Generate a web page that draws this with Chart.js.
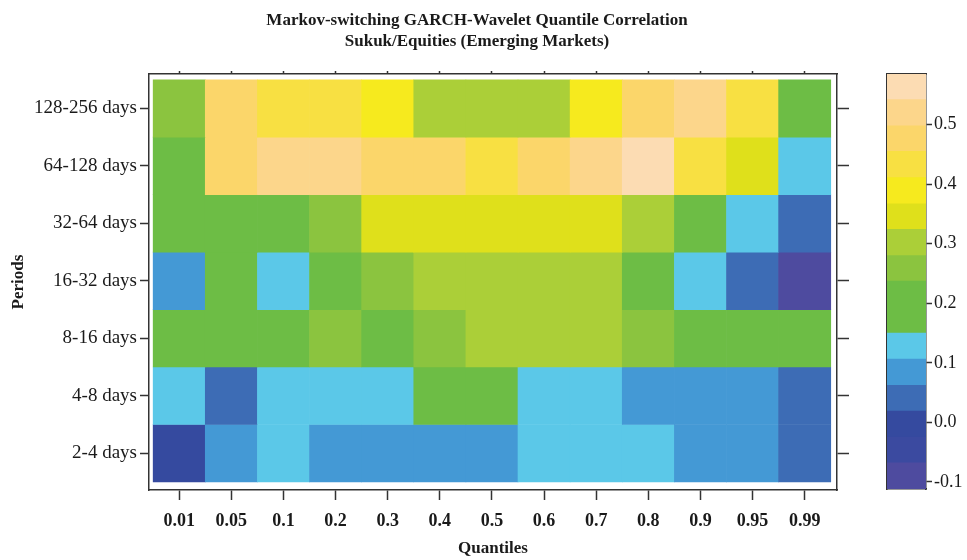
<!DOCTYPE html>
<html>
<head>
<meta charset="utf-8">
<script src="https://cdn.jsdelivr.net/npm/chart.js@4.4.0/dist/chart.umd.min.js"></script>
<style>
  html, body { margin: 0; padding: 0; background: #fff; }
  #wrap { position: relative; width: 967px; height: 560px; }
  #heat { position: absolute; left: 0; top: 0; }
  #cbar { position: absolute; left: 877px; top: 0; }
</style>
</head>
<body>
<div id="wrap">
  <canvas id="heat" width="967" height="560"></canvas>
  <canvas id="cbar" width="90" height="560"></canvas>
</div>
<script>
Chart.defaults.font.family = 'Liberation Serif';
Chart.defaults.color = '#1a1a1a';

const quantiles = ['0.01', '0.05', '0.1', '0.2', '0.3', '0.4', '0.5', '0.6', '0.7', '0.8', '0.9', '0.95', '0.99'];
const periods = ['2-4 days', '4-8 days', '8-16 days', '16-32 days', '32-64 days', '64-128 days', '128-256 days'];

// correlation for each quantile, one array per period
const corr_2_4     = [-0.02, 0.08, 0.13, 0.08, 0.08, 0.09, 0.08, 0.13, 0.13, 0.12, 0.08, 0.08, 0.04];
const corr_4_8     = [0.13, 0.04, 0.13, 0.12, 0.13, 0.20, 0.21, 0.13, 0.12, 0.08, 0.08, 0.09, 0.04];
const corr_8_16    = [0.20, 0.21, 0.20, 0.26, 0.21, 0.26, 0.30, 0.31, 0.30, 0.26, 0.20, 0.21, 0.20];
const corr_16_32   = [0.08, 0.20, 0.13, 0.21, 0.26, 0.30, 0.31, 0.30, 0.30, 0.20, 0.13, 0.04, -0.09];
const corr_32_64   = [0.20, 0.21, 0.20, 0.26, 0.35, 0.35, 0.36, 0.35, 0.35, 0.30, 0.21, 0.13, 0.04];
const corr_64_128  = [0.21, 0.48, 0.52, 0.52, 0.48, 0.48, 0.43, 0.48, 0.52, 0.56, 0.43, 0.35, 0.13];
const corr_128_256 = [0.26, 0.48, 0.43, 0.43, 0.39, 0.30, 0.31, 0.30, 0.39, 0.48, 0.52, 0.43, 0.21];
const corrRows = [corr_2_4, corr_4_8, corr_8_16, corr_16_32, corr_32_64, corr_64_128, corr_128_256];

// colour bar: band edges and colours (bottom to top)
const bandEdges = [-0.112, -0.068, -0.025, 0.019, 0.062, 0.106, 0.15, 0.193, 0.237, 0.28, 0.324, 0.367, 0.411, 0.455, 0.498, 0.542, 0.585];
const bandColors = ['#4e4b9f', '#3b4aa0', '#354a9f', '#3d6cb5', '#4499d5', '#5bc8e8', '#6dbd45', '#6dbd45',
                    '#8bc43f', '#abcf38', '#dfe01b', '#f6ea1e', '#f8e042', '#fbd66a', '#fcd68b', '#fcdcb3'];
const cbTicks = [-0.1, 0.0, 0.1, 0.2, 0.3, 0.4, 0.5];

function colorFor(v) {
  for (let i = 0; i < bandColors.length; i++) {
    if (v < bandEdges[i + 1]) return bandColors[i];
  }
  return bandColors[bandColors.length - 1];
}

const lineCol = '#333';

// one floating bar per cell
const cells = [];
corrRows.forEach((row, r) => row.forEach((v, c) => cells.push({ x: c, y: [r, r + 1], v: v })));

const rowTicks = s => { s.ticks = periods.map((p, i) => ({ value: i + 0.5 })); };
const colTicks = s => { s.ticks = quantiles.map((q, i) => ({ value: i })); };

const heatChart = new Chart(document.getElementById('heat'), {
  type: 'bar',
  data: {
    datasets: [{
      data: cells,
      backgroundColor: ctx => (ctx.raw ? colorFor(ctx.raw.v) : '#fff'),
      borderWidth: 0,
      barPercentage: 1,
      categoryPercentage: 1,
      grouped: false,
    }],
  },
  options: {
    responsive: false,
    animation: false,
    layout: { padding: { left: 0, right: 13, top: 0, bottom: 0 } },
    plugins: {
      legend: { display: false },
      tooltip: { enabled: false },
      title: {
        display: true,
        text: ['Markov-switching GARCH-Wavelet Quantile Correlation', 'Sukuk/Equities (Emerging Markets)'],
        color: '#1a1a1a',
        font: { size: 17, weight: 'bold', lineHeight: 1.25 },
        padding: { top: 10, bottom: 0 },
      },
    },
    scales: {
      x: {
        type: 'linear',
        offset: false,
        min: -0.58,
        max: 12.62,
        afterBuildTicks: colTicks,
        ticks: {
          callback: v => quantiles[Math.round(v)],
          font: { size: 18, weight: 'bold' },
          padding: 11,
          maxRotation: 0,
          autoSkip: false,
        },
        grid: { offset: false, drawOnChartArea: false, tickLength: 10, tickColor: lineCol, tickWidth: 1.5 },
        border: { color: lineCol, width: 1.5 },
        title: { display: true, text: 'Quantiles', font: { size: 17, weight: 'bold' }, padding: { top: 0, bottom: 1 } },
        afterFit: s => { s.height = 70; },
      },
      x2: {
        type: 'linear',
        position: 'top',
        offset: false,
        min: -0.58,
        max: 12.62,
        afterBuildTicks: colTicks,
        ticks: { display: false },
        grid: { offset: false, drawOnChartArea: false, tickLength: 3, tickColor: lineCol, tickWidth: 1.5 },
        border: { color: lineCol, width: 1.5 },
        afterFit: s => { s.height = 21.5; },
      },
      y: {
        type: 'linear',
        min: -0.14,
        max: 7.1,
        afterBuildTicks: rowTicks,
        ticks: {
          callback: v => periods[Math.floor(v)],
          font: { size: 19 },
          padding: 3,
          autoSkip: false,
        },
        grid: { drawOnChartArea: false, tickLength: 9, tickColor: lineCol, tickWidth: 1.5 },
        border: { color: lineCol, width: 1.5 },
        title: { display: true, text: 'Periods', font: { size: 17, weight: 'bold' }, padding: { top: 8, bottom: 0 } },
        afterFit: s => { s.width = 149; },
      },
      y2: {
        type: 'linear',
        position: 'right',
        min: -0.14,
        max: 7.1,
        afterBuildTicks: rowTicks,
        ticks: { display: false },
        grid: { drawOnChartArea: false, tickLength: 12, tickColor: lineCol, tickWidth: 1.5 },
        border: { color: lineCol, width: 1.5 },
        afterFit: s => { s.width = 117; },
      },
    },
  },
});

// colour bar as stacked floating bands
const cbChart = new Chart(document.getElementById('cbar'), {
  type: 'bar',
  data: {
    labels: [''],
    datasets: bandColors.map((col, i) => ({
      data: [[bandEdges[i], bandEdges[i + 1]]],
      backgroundColor: col,
      borderWidth: 0,
      barPercentage: 1,
      categoryPercentage: 1,
      grouped: false,
    })),
  },
  options: {
    responsive: false,
    animation: false,
    layout: { padding: { left: 10, right: 0, top: 74, bottom: 71 } },
    plugins: { legend: { display: false }, tooltip: { enabled: false } },
    scales: {
      x: {
        ticks: { display: false },
        grid: { display: false, drawTicks: false },
        border: { color: lineCol, width: 1.5 },
        afterFit: s => { s.height = 0; },
      },
      x2: {
        type: 'category',
        labels: [''],
        position: 'top',
        ticks: { display: false },
        grid: { display: false, drawTicks: false },
        border: { color: lineCol, width: 1.5 },
        afterFit: s => { s.height = 0; },
      },
      y: {
        position: 'right',
        min: bandEdges[0],
        max: bandEdges[bandEdges.length - 1],
        afterBuildTicks: s => { s.ticks = cbTicks.map(t => ({ value: t })); },
        ticks: { callback: v => v.toFixed(1), font: { size: 18 }, padding: 2 },
        grid: { drawOnChartArea: false, tickLength: 6, tickColor: lineCol, tickWidth: 1.5 },
        border: { color: lineCol, width: 1.5 },
        afterFit: s => { s.width = 41; },
      },
      y2: {
        type: 'linear',
        position: 'left',
        min: bandEdges[0],
        max: bandEdges[bandEdges.length - 1],
        ticks: { display: false },
        grid: { display: false, drawTicks: false },
        border: { color: lineCol, width: 1.5 },
        afterFit: s => { s.width = 0; },
      },
    },
  },
});
</script>
</body>
</html>
